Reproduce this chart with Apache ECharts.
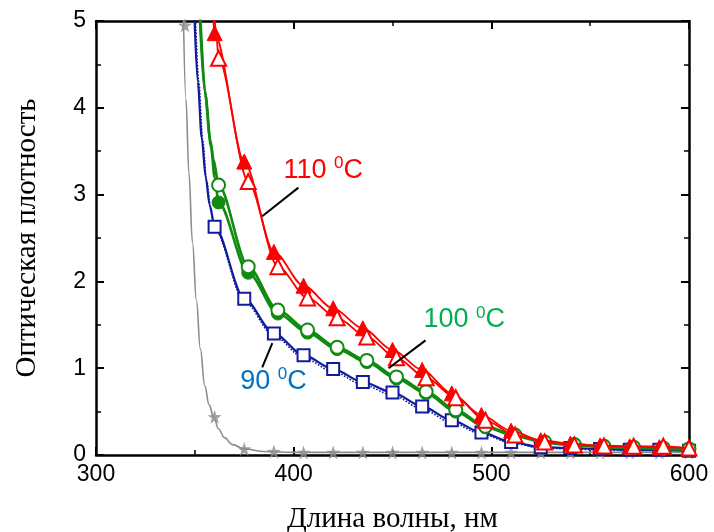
<!DOCTYPE html>
<html>
<head>
<meta charset="utf-8">
<script src="https://cdn.jsdelivr.net/npm/echarts@6/dist/echarts.min.js"></script>
<style>
html, body { margin: 0; padding: 0; background: #fff; }
#chart { width: 714px; height: 532px; }
</style>
</head>
<body>
<div id="chart"></div>
<script>
// Absorption spectra: optical density vs wavelength, samples annealed at 90/100/110 °C
const waveA = [360, 375, 390, 405, 420, 435, 450, 465, 480, 495, 510, 525, 540, 555, 570, 585, 600];
const waveB = [362, 377, 392, 407, 422, 437, 452, 467, 482, 497, 512, 527, 542, 557, 572, 587, 600];

const red110Filled = [4.86, 3.38, 2.34, 1.95, 1.69, 1.46, 1.21, 0.98, 0.71, 0.46, 0.28, 0.17, 0.13, 0.11, 0.10, 0.09, 0.08];
const red110Open   = [4.57, 3.15, 2.17, 1.81, 1.58, 1.36, 1.12, 0.89, 0.66, 0.40, 0.23, 0.15, 0.115, 0.105, 0.10, 0.10, 0.08];
const green100Open   = [3.11, 2.17, 1.67, 1.44, 1.24, 1.09, 0.90, 0.73, 0.52, 0.33, 0.23, 0.15, 0.12, 0.10, 0.09, 0.08, 0.07];
const green100Filled = [2.91, 2.10, 1.63, 1.41, 1.22, 1.07, 0.88, 0.71, 0.50, 0.32, 0.22, 0.14, 0.11, 0.09, 0.08, 0.07, 0.06];
const blue90Open   = [2.63, 1.80, 1.40, 1.15, 0.99, 0.84, 0.72, 0.56, 0.40, 0.26, 0.15, 0.09, 0.08, 0.07, 0.06, 0.06, 0.05];
const blue90Dotted = [2.60, 1.77, 1.37, 1.12, 0.96, 0.81, 0.69, 0.53, 0.37, 0.24, 0.14, 0.08, 0.07, 0.06, 0.05, 0.05, 0.05];

// steep rising edge of each spectrum, above the first marked point
const red110FilledEdge = [[359.2, 5.05]];
const red110OpenEdge   = [[360.0, 5.05], [361.0, 4.8]];
const green100OpenEdge   = [[352.5, 5.05], [355.0, 4.2], [357.8, 3.63], [359.5, 3.40]];
const green100FilledEdge = [[352.8, 5.05], [355.3, 4.15], [358.2, 3.55], [360.0, 3.20]];
const blue90OpenEdge   = [[349.8, 5.05], [351.5, 4.3], [353.5, 3.65], [355.5, 3.2], [357.5, 2.88]];
const blue90DottedEdge = [[350.3, 5.05], [352.0, 4.3], [354.0, 3.62], [356.0, 3.16], [358.0, 2.84]];

// reference film (no annealing)
const refWave  = [344.2, 345.5, 347.0, 348.8, 350.8, 352.8, 355.0, 357.2, 359.5, 362.0, 365.0, 369.0, 375.0, 385.0, 400.0, 450.0, 500.0, 600.0];
const refValue = [5.10, 4.10, 3.25, 2.45, 1.78, 1.22, 0.80, 0.58, 0.44, 0.30, 0.20, 0.12, 0.07, 0.04, 0.03, 0.03, 0.03, 0.03];
const refStarWave  = [345, 360, 375, 390, 405, 420, 435, 450, 465, 480, 495, 510, 525, 540, 555, 570, 585, 600];
const refStarValue = [4.95, 0.44, 0.07, 0.04, 0.03, 0.03, 0.03, 0.03, 0.03, 0.03, 0.03, 0.03, 0.03, 0.03, 0.03, 0.03, 0.03, 0.03];

const RED = '#ff0000', GREEN = '#118a11', BLUE = '#101c9c', GRAY = '#8c8c8c';

function pairs(xs, ys) { return xs.map((x, i) => [x, ys[i]]); }
function withEdge(edge, xs, ys) {
  return edge.map(p => ({ value: p, symbol: 'none' })).concat(pairs(xs, ys));
}

function curve(name, data, color, width, symbol, size, filled, z, dashed) {
  return {
    name, type: 'line', data, z,
    smooth: 0.3, smoothMonotone: 'x',
    showAllSymbol: true,
    symbol, symbolSize: size,
    lineStyle: { color, width, type: dashed ? 'dotted' : 'solid' },
    itemStyle: filled
      ? { color, borderColor: color, borderWidth: 1 }
      : { color: '#ffffff', borderColor: color, borderWidth: 2 },
    emphasis: { disabled: true },
    animation: false
  };
}

const chart = echarts.init(document.getElementById('chart'), null, { renderer: 'canvas' });

const tickFont = { fontFamily: 'Liberation Sans, Arial, sans-serif', fontSize: 23, color: '#000' };
const titleFont = { fontFamily: 'Liberation Serif, Times New Roman, serif', fontSize: 29, color: '#000' };

function valueAxis(extra) {
  return Object.assign({
    type: 'value',
    axisLine: { show: true, onZero: false, lineStyle: { color: '#000', width: 2.5 } },
    axisTick: { show: true, inside: true, length: 8, lineStyle: { color: '#000', width: 2 } },
    minorTick: { show: true, splitNumber: 2, length: 5, lineStyle: { color: '#000', width: 1.5 } },
    splitLine: { show: false },
    minorSplitLine: { show: false }
  }, extra);
}

chart.setOption({
  backgroundColor: '#ffffff',
  animation: false,
  grid: { left: 96, right: 25, top: 21, bottom: 77, containLabel: false, outerBoundsMode: 'none' },
  xAxis: [
    valueAxis({
      min: 300, max: 600, interval: 100, position: 'bottom',
      axisLabel: Object.assign({ margin: 8 }, tickFont),
      name: 'Длина волны, нм', nameLocation: 'middle', nameGap: 50,
      nameTextStyle: titleFont
    }),
    valueAxis({ min: 300, max: 600, interval: 100, position: 'top', axisLabel: { show: false } })
  ],
  yAxis: [
    valueAxis({
      min: 0, max: 5, interval: 1, position: 'left',
      axisLabel: Object.assign({ margin: 10 }, tickFont),
      name: 'Оптическая плотность', nameLocation: 'middle', nameGap: 54,
      nameTextStyle: titleFont
    }),
    valueAxis({ min: 0, max: 5, interval: 1, position: 'right', axisLabel: { show: false } })
  ],
  series: [
    {
      name: 'ref', type: 'line', data: pairs(refWave, refValue), z: 2,
      smooth: 0.4, smoothMonotone: 'x', showSymbol: false,
      lineStyle: { color: GRAY, width: 1.6 }, emphasis: { disabled: true }
    },
    {
      name: 'ref-stars', type: 'scatter', data: pairs(refStarWave, refStarValue), z: 2,
      symbol: 'path://M0,-10 L2.35,-3.24 L9.51,-3.09 L3.8,1.24 L5.88,8.09 L0,4 L-5.88,8.09 L-3.8,1.24 L-9.51,-3.09 L-2.35,-3.24 Z',
      symbolSize: 14, itemStyle: { color: GRAY }, emphasis: { disabled: true }
    },
    curve('90 dotted', withEdge(blue90DottedEdge, waveA, blue90Dotted), BLUE, 1.6, 'none', 0, true, 3, true),
    curve('90', withEdge(blue90OpenEdge, waveA, blue90Open), BLUE, 2.2, 'rect', 12, false, 4),
    curve('100 filled', withEdge(green100FilledEdge, waveB, green100Filled), GREEN, 2.6, 'circle', 13, true, 5),
    curve('100', withEdge(green100OpenEdge, waveB, green100Open), GREEN, 2.6, 'circle', 13, false, 6),
    curve('110 filled', withEdge(red110FilledEdge, waveA, red110Filled), RED, 1.8, 'triangle', 15, true, 7),
    curve('110', withEdge(red110OpenEdge, waveB, red110Open), RED, 1.8, 'triangle', 15, false, 8)
  ]
});

// Temperature callouts, anchored in data coordinates
const callouts = [
  { num: '110', color: '#ff0000', textAt: [394.8, 3.28], lineFrom: [402.4, 3.08], lineTo: [384.1, 2.75] },
  { num: '100', color: '#00b050', textAt: [465.7, 1.555], lineFrom: [466.7, 1.32], lineTo: [448.0, 1.00] },
  { num: '90',  color: '#0070c0', textAt: [373.0, 0.85], lineFrom: [389.2, 1.29], lineTo: [384.1, 1.01] }
];

const px = p => chart.convertToPixel({ gridIndex: 0 }, p);
const graphics = [];
callouts.forEach(c => {
  const a = px(c.lineFrom), b = px(c.lineTo), t = px(c.textAt);
  graphics.push({
    type: 'line', z: 100,
    shape: { x1: a[0], y1: a[1], x2: b[0], y2: b[1] },
    style: { stroke: '#000', lineWidth: 2 }
  });
  graphics.push({
    type: 'text', z: 100, x: t[0], y: t[1],
    style: {
      text: '{n|' + c.num + ' }{s|0}{n|C}',
      align: 'left', verticalAlign: 'middle',
      fill: c.color,
      rich: {
        n: { fontFamily: 'Liberation Sans, Arial, sans-serif', fontSize: 27, fill: c.color, lineHeight: 30 },
        s: { fontFamily: 'Liberation Sans, Arial, sans-serif', fontSize: 17, fill: c.color, verticalAlign: 'top', lineHeight: 30 }
      }
    }
  });
});
chart.setOption({ graphic: graphics });
</script>
</body>
</html>
